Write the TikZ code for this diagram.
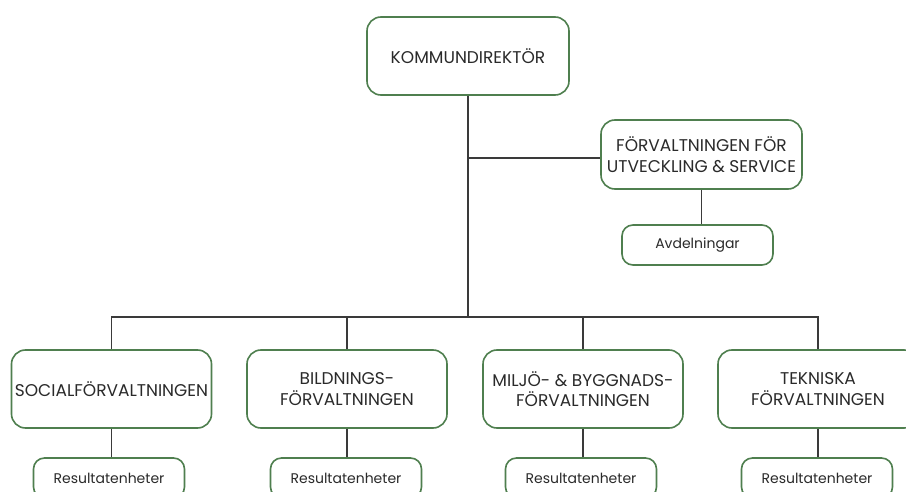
\documentclass[tikz,border=0pt]{standalone}
\usepackage{fontspec}
\setmainfont{Poppins}
\definecolor{boxgreen}{HTML}{4F7F4F}
\definecolor{linegray}{HTML}{3A3A3A}
\definecolor{txtgray}{HTML}{2A2A2A}
\begin{document}
\begin{tikzpicture}[x=1pt,y=-1pt,
  org/.style={draw=boxgreen, line width=1.6pt, rounded corners=14pt, fill=white,
    text=txtgray, align=center, inner sep=0pt, font=\fontsize{17}{20.5}\selectfont},
  big/.style={org, minimum width=200pt, minimum height=78pt},
  small/.style={org, rounded corners=11pt, minimum width=151pt, minimum height=40pt,
    font=\fontsize{14}{17}\selectfont},
  conn/.style={draw=linegray, line width=1.8pt}]
\useasboundingbox (0,0) rectangle (906,492);
\clip (0,0) rectangle (906,492);
\fill[white] (0,0) rectangle (906,492);

\node[big, minimum width=202pt] (kd) at (468,56) {KOMMUNDIREKTÖR};
\node[org, minimum width=201pt, minimum height=69pt] (fus) at (701.5,154.5) {FÖRVALTNINGEN FÖR\\UTVECKLING \& SERVICE};
\node[small] (avd) at (697.5,245) {Avdelningar};

\node[big] (soc) at (111.5,389) {SOCIALFÖRVALTNINGEN};
\node[big] (bild) at (347,389) {BILDNINGS-\\FÖRVALTNINGEN};
\node[big] (mb) at (583,389) {MILJÖ- \& BYGGNADS-\\FÖRVALTNINGEN};
\node[big] (tek) at (818,389) {TEKNISKA\\FÖRVALTNINGEN};

\node[small] (r1) at (109,478) {Resultatenheter};
\node[small] (r2) at (346,478) {Resultatenheter};
\node[small] (r3) at (581,478) {Resultatenheter};
\node[small] (r4) at (817,478) {Resultatenheter};

\coordinate (bus) at (111.5,317);
\coordinate (br) at ([yshift=-3.5pt]fus.west);

\draw[conn] (kd.south) -- (kd.south |- bus);
\draw[conn] (soc.north) -- (soc.north |- bus) -| (tek.north);
\draw[conn] (bild.north) -- (bild.north |- bus);
\draw[conn] (mb.north) -- (mb.north |- bus);
\draw[conn] (kd.south |- br) -- (br);
\draw[conn] (fus.south) -- (fus.south |- avd.north);
\draw[conn] (soc.south) -- (soc.south |- r1.north);
\draw[conn] (bild.south) -- (bild.south |- r2.north);
\draw[conn] (mb.south) -- (mb.south |- r3.north);
\draw[conn] (tek.south) -- (tek.south |- r4.north);
\end{tikzpicture}
\end{document}
